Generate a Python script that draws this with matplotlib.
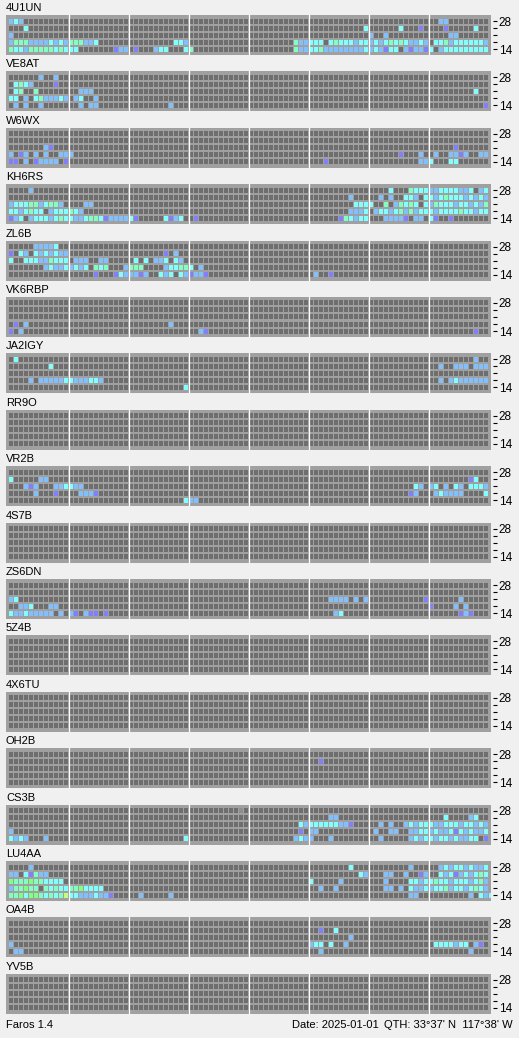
import matplotlib.pyplot as plt

# one panel per beacon, 5 bands (28 at top ... 14 at bottom), 96 x 15 min slots
# . = no signal, p/b/c/g/G/y = increasing signal levels, x = grey cell
Z = "............"
BLANK = " ".join([Z] * 8)

stations = ["4U1UN", "VE8AT", "W6WX", "KH6RS", "ZL6B", "VK6RBP", "JA2IGY", "RR9O", "VR2B",
            "4S7B", "ZS6DN", "5Z4B", "4X6TU", "OH2B", "CS3B", "LU4AA", "OA4B", "YV5B"]

grid_4u1un = [
    "bcb......... " + " ".join([Z] * 6) + " ..bb........",
    "...c........ " + " ".join([Z] * 4) + " ...........c ......c...p. ...p.....c..",
    "b........... " + " ".join([Z] * 5) + " b..b........ ....bb......",
    "bgggbbbbcbcb gggbbc...... .........ccb " + Z + " .........gbb ccc.cgcccbcc bcbcgcgcbbcb .ccgbccccccb",
    "gccbgggggcgc cc.......pbb .p...bcc...c g........... .........gbb ccgbbbbbbbbc bcbpcc.bpbbp c.bccccccccc",
]
grid_ve8at = [
    "......b..b.. " + " ".join([Z] * 7),
    ".cgcb....p.. " + " ".join([Z] * 7),
    ".cg..g...... ..bbb....... " + " ".join([Z] * 5) + " .........c..",
    "cc.b.cgbbbcb .bc..b...... " + " ".join([Z] * 6),
    ".b.b..b..... ..b.bb...... ........b... " + " ".join([Z] * 4) + " ...........p",
]
grid_w6wx = [
    BLANK,
    BLANK,
    ".......bp... " + " ".join([Z] * 6) + " .....p......",
    "b.pb.b.b..bb b........... " + " ".join([Z] * 4) + " ......p...b. .b..bbpb..bb",
    "pp.b.pbbbb.p " + " ".join([Z] * 4) + " ...p........ ..........bb c...cc......",
]
grid_kh6rs = [
    "....b....... " + " ".join([Z] * 5) + " ....c...gccc bbccccbbc.bc",
    " ".join([Z] * 5) + " ........b... ..b.b..ccb.c cbcgcccbcbcb",
    "bcccggbcggb. ...bb....... " + " ".join([Z] * 3) + " .........ccc c..g.bgcgc.c bgcccbccbcbg",
    "ccbcgcc.bccc gcb......... " + " ".join([Z] * 3) + " ........bbbc .bccbcgbgbcc cbccccgccbcc",
    "pbc.bcccbcgc cbbcggcpbbbb cp.....cpbc. .p.......... " + Z + " ......pgcbcc ...bbbbp.bb. cp..p.......",
]
grid_zl6b = [
    ".....bbbbc.. " + " ".join([Z] * 7),
    "p.cb.cbcbcbb " + Z + " .......p.b.. " + " ".join([Z] * 5),
    "c..cccbbgccc .bbb..bb.... .c.c.bbc.cb. " + " ".join([Z] * 5),
    ".......bcbbc bcbc.gcg...b ggg....bccgg c.b......... " + " ".join([Z] * 4),
    Z + " .....p...pcb bbpb..cbc.cb pbbp........ " + Z + " .b..p....... " + Z + " " + Z,
]
grid_vk6rbp = [
    BLANK,
    BLANK,
    BLANK,
    ".p.b........ " + Z + " ........b... " + " ".join([Z] * 5),
    "p.b......... " + Z + " " + Z + " ..bp........ " + " ".join([Z] * 3) + " .........p..",
]
grid_ja2igy = [
    ".c.......... " + " ".join([Z] * 6) + " .........b..",
    "........c... " + " ".join([Z] * 6) + " ..b..bbb.bbb",
    BLANK,
    "....b.bbbbbc cbbbccb..... " + " ".join([Z] * 5) + " ..b.bcbbbbbb",
    Z + " " + Z + " ...........c " + " ".join([Z] * 5),
]
grid_vr2b = [
    BLANK,
    "c.....bb.... " + " ".join([Z] * 6) + " ........pc..",
    "...bpb...bbc cbb......... " + " ".join([Z] * 4) + " .........cb. bc.b.cb.cccb",
    ".....b...p.. ..bbbp...... " + " ".join([Z] * 4) + " ........pb.. .bcbbbb....c",
    Z + " " + Z + " ...........c bb.......... " + " ".join([Z] * 4),
]
grid_zs6dn = [
    BLANK,
    BLANK,
    "bc.......... " + " ".join([Z] * 4) + " ....bbbb.b.b ...........p ......b.....",
    "..bbc...bb.. " + " ".join([Z] * 6) + " p....b.b....",
    "cbbcbbbbb.b. bp.bpp.p.... " + " ".join([Z] * 3) + " .....bc..... " + Z + " ......pbp...",
]
grid_oh2b = [
    BLANK,
    " ".join([Z] * 5) + " ..p......... " + Z + " " + Z,
    BLANK,
    BLANK,
    BLANK,
]
grid_cs3b = [
    " ".join([Z] * 3) + " ..........x. " + " ".join([Z] * 4),
    " ".join([Z] * 5) + " ....bb...... " + Z + " ...c....bc..",
    " ".join([Z] * 4) + " ..........cb ccccccbbp... ..b.b..bcbcc cbbcccbccbcb",
    "b........... " + " ".join([Z] * 3) + " ..........p. bb.......... .b..bb..bbcc bcbbcpcbcbbc",
    "cbcb...b.... " + Z + " ...........c " + Z + " .........bcb b...b....... ..b.....bcbc cbccbcbbcc.p",
]
grid_lu4aa = [
    "....b....... " + " ".join([Z] * 4) + " ........c... ........b... ..bcbccbcbbc",
    "bb.cpgbb.... " + " ".join([Z] * 4) + " ..........cb ...bb..b..pb ..cbcpbcbcgc",
    "GgggGggcccc. " + " ".join([Z] * 4) + " c.....b..... ...b....ccbc cgccbcccbcgb",
    "bggGgg.gcgcc ggGcccc..... " + " ".join([Z] * 3) + " ..b..b...... ...bb.b.cbbc bccgbccbcgcb",
    "ggGcGGgcgcgy ccbbbcbbp... ..b.....b... " + " ".join([Z] * 3) + " ........bb.. ........b.cb cbgcbcbbcbcb",
]
grid_oa4b = [
    BLANK,
    " ".join([Z] * 5) + " ..p..c...... " + Z + " " + Z,
    " ".join([Z] * 5) + " ........b... " + Z + " " + Z,
    "b........... " + " ".join([Z] * 4) + " bcc.c..b.... " + Z + " .ccccbcc.bp.",
    ".bb......... " + " ".join([Z] * 4) + " ..b......... " + Z + " ........b...",
]

grids = [grid_4u1un, grid_ve8at, grid_w6wx, grid_kh6rs, grid_zl6b, grid_vk6rbp, grid_ja2igy,
         [BLANK] * 5, grid_vr2b, [BLANK] * 5, grid_zs6dn, [BLANK] * 5, [BLANK] * 5,
         grid_oh2b, grid_cs3b, grid_lu4aa, grid_oa4b, [BLANK] * 5]

band_labels = ["28", "", "", "", "14"]

level_colors = {".": "#6e6e6e", "x": "#8e8e8e", "p": "#8080ff", "b": "#80c0ff",
                "c": "#80ffff", "g": "#80ffc0", "G": "#80ff80", "y": "#c0ff80"}

W, H = 519, 1038
fig = plt.figure(figsize=(W / 100, H / 100), dpi=100, facecolor="#f0f0f0")
plt.rcParams["font.family"] = ["Liberation Sans", "DejaVu Sans"]

for i, name in enumerate(stations):
    top = 15 + 56.4 * i
    ax = fig.add_axes([6 / W, 1 - (top + 40) / H, 485 / W, 40 / H])
    ax.set_facecolor("#a0a0a0")
    for r, row in enumerate(grids[i]):
        cells = row.replace(" ", "")
        cols = list(range(len(cells)))
        ax.bar(cols, 5 / 7, width=0.8, bottom=r, align="edge",
               color=[level_colors[ch] for ch in cells], linewidth=0)
    for k in range(1, 8):
        ax.axvline(12 * k - 0.1, color="white", lw=0.9)
    ax.set_xlim(-0.6, 96.4)
    ax.set_ylim(5 - 2 / 7 + 0.5, -0.5)
    ax.set_xticks([])
    ax.set_yticks([r + 2.5 / 7 for r in range(5)])
    ax.set_yticklabels(band_labels)
    ax.yaxis.tick_right()
    ax.tick_params(axis="y", length=3, width=0.8, pad=1.2, labelsize=8.5, colors="black")
    for s in ax.spines.values():
        s.set_visible(False)
    ax.spines["right"].set_position(("outward", 1.5))
    fig.text(6 / W, 1 - (top - 7) / H, name, fontsize=8, va="center", ha="left")

fig.text(6 / W, 1 - 1025.5 / H, "Faros 1.4", fontsize=8, va="center", ha="left")
fig.text(292 / W, 1 - 1025.5 / H, "Date: 2025-01-01", fontsize=8, va="center", ha="left")
fig.text(513 / W, 1 - 1025.5 / H, "QTH: 33°37' N  117°38' W", fontsize=8, va="center", ha="right")

fig.savefig("out.png", dpi=100, facecolor=fig.get_facecolor())
